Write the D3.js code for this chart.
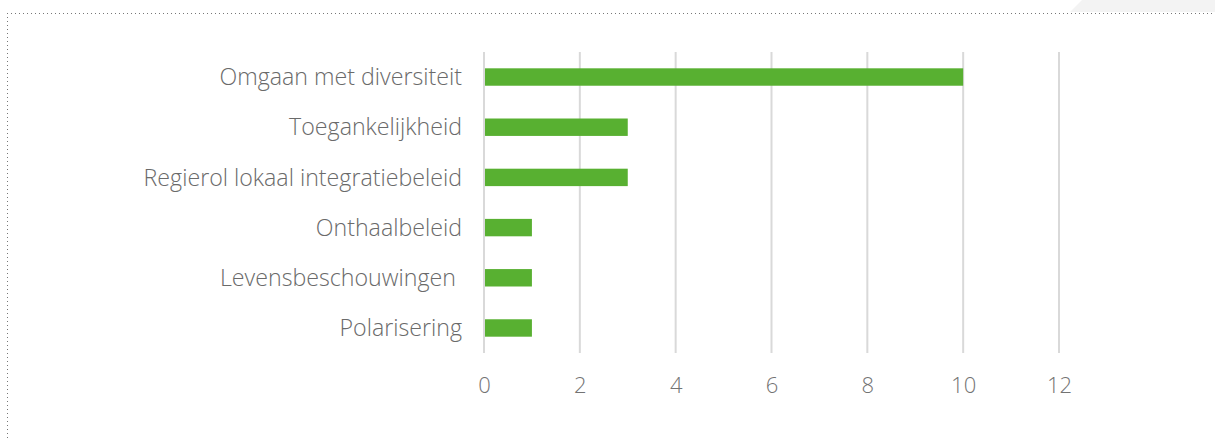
<!DOCTYPE html>
<html><head><meta charset="utf-8">
<script src="https://cdn.jsdelivr.net/npm/d3@7"></script>
<style>html,body{margin:0;padding:0;background:#fff;}svg{display:block;}</style>
</head><body>
<svg id="c" width="1215" height="438"></svg>
<script>
const categories = ["Omgaan met diversiteit","Toegankelijkheid","Regierol lokaal integratiebeleid","Onthaalbeleid","Levensbeschouwingen ","Polarisering"];
const values = [10,3,3,1,1,1];
const tickValues = [0,2,4,6,8,10,12];

const svg = d3.select("#c");
// top-right tab
svg.append("path").attr("d","M1070,12 L1082,0 L1215,0 L1215,12 Z").attr("fill","#f3f3f3");
// dotted border
svg.append("line").attr("x1",7).attr("x2",1213).attr("y1",13.5).attr("y2",13.5)
  .attr("stroke","#777").attr("stroke-width",1).attr("stroke-dasharray","1,3");
svg.append("line").attr("x1",7.5).attr("x2",7.5).attr("y1",13).attr("y2",438)
  .attr("stroke","#777").attr("stroke-width",1).attr("stroke-dasharray","1,3");

const x = d3.scaleLinear().domain([0,12]).range([484,1059]);
const y = d3.scaleBand().domain(categories).range([52,353]).paddingInner(0.653).paddingOuter(0.325);

// gridlines
svg.append("g").selectAll("line").data(tickValues).join("line")
  .attr("x1",d=>x(d)).attr("x2",d=>x(d)).attr("y1",52).attr("y2",353)
  .attr("stroke","#d9d9d9").attr("stroke-width",2);

// bars
svg.append("g").selectAll("rect").data(values).join("rect")
  .attr("x",x(0)+1).attr("y",(d,i)=>y(categories[i]))
  .attr("width",d=>x(d)-x(0)-1).attr("height",y.bandwidth())
  .attr("fill","#58b031");

// x axis labels
const xa = svg.append("g").attr("transform","translate(0,385)")
  .call(d3.axisBottom(x).tickValues(tickValues).tickSize(0).tickPadding(0).tickFormat(d3.format("d")));
xa.select(".domain").remove();
xa.selectAll("text").attr("font-family","Open Sans").attr("font-size",22).attr("font-weight",300)
  .attr("fill","#737373").attr("dy","0.35em").attr("y",0);

// y axis labels
const ya = svg.append("g").attr("transform","translate(462,0)")
  .call(d3.axisLeft(y).tickSize(0).tickPadding(0));
ya.select(".domain").remove();
ya.selectAll("text").attr("font-family","Open Sans").attr("font-size",23.2).attr("font-weight",300)
  .attr("fill","#6a6a6a").attr("x",0).attr("dy","0.35em").style("white-space","pre");
</script>
</body></html>
